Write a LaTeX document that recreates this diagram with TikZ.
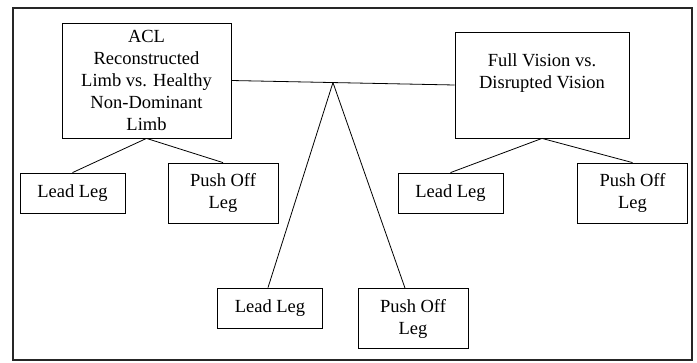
\documentclass[tikz,border=0pt]{standalone}
\usepackage{fontspec}
\setmainfont{Liberation Serif}
\usetikzlibrary{calc}

\begin{document}
\begin{tikzpicture}[x=1pt, y=-1pt, font=\fontsize{18.5}{22}\selectfont,
  factorbox/.style = {draw, line width=0.8pt, inner sep=0pt, align=center},
  leadbox/.style = {draw, line width=0.8pt, inner sep=0pt, align=center, minimum width=105pt, minimum height=40pt},
  pushbox/.style = {draw, line width=0.8pt, inner sep=0pt, align=center, minimum width=110pt, minimum height=60pt},
  link/.style = {line width=0.8pt}
]
\useasboundingbox (0,0) rectangle (697,362);
\draw[line width=2pt, black!85] (13,8) rectangle (692,360);
% the two factors
\node[factorbox, minimum width=169pt, minimum height=115pt] (limb) at (146.5,80.5)
  {ACL\\Reconstructed\\Limb vs. Healthy\\Non-Dominant\\Limb};
\node[factorbox, minimum width=174pt, minimum height=106pt] (vision) at (542,85)
  {Full Vision vs.\\Disrupted Vision\\[6pt]};
% legs under each factor
\node[leadbox] (limb_lead) at (72.5,193) {Lead Leg};
\node[pushbox] (limb_push) at (223,193) {Push Off\\Leg};
\node[leadbox] (vision_lead) at (450.5,193) {Lead Leg};
\node[pushbox] (vision_push) at (632.5,193) {Push Off\\Leg};
\node[leadbox] (mid_lead) at (270,308) {Lead Leg};
\node[pushbox] (mid_push) at (413,318.5) {Push Off\\Leg};
\draw[link] (limb.south) -- (limb_lead.north);
\draw[link] (limb.south) -- (limb_push.north);
\draw[link] (vision.south) -- (vision_lead.north);
\draw[link] (vision.south) -- (vision_push.north);
% link between factors and the split below it
\draw[link] (limb.east) -- (vision.west);
\coordinate (apex) at ($(limb.east)!0.455!(vision.west)$);
\draw[link] (apex) -- ([xshift=-2pt]mid_lead.north);
\draw[link] (apex) -- ([xshift=-8pt]mid_push.north);
\end{tikzpicture}
\end{document}
